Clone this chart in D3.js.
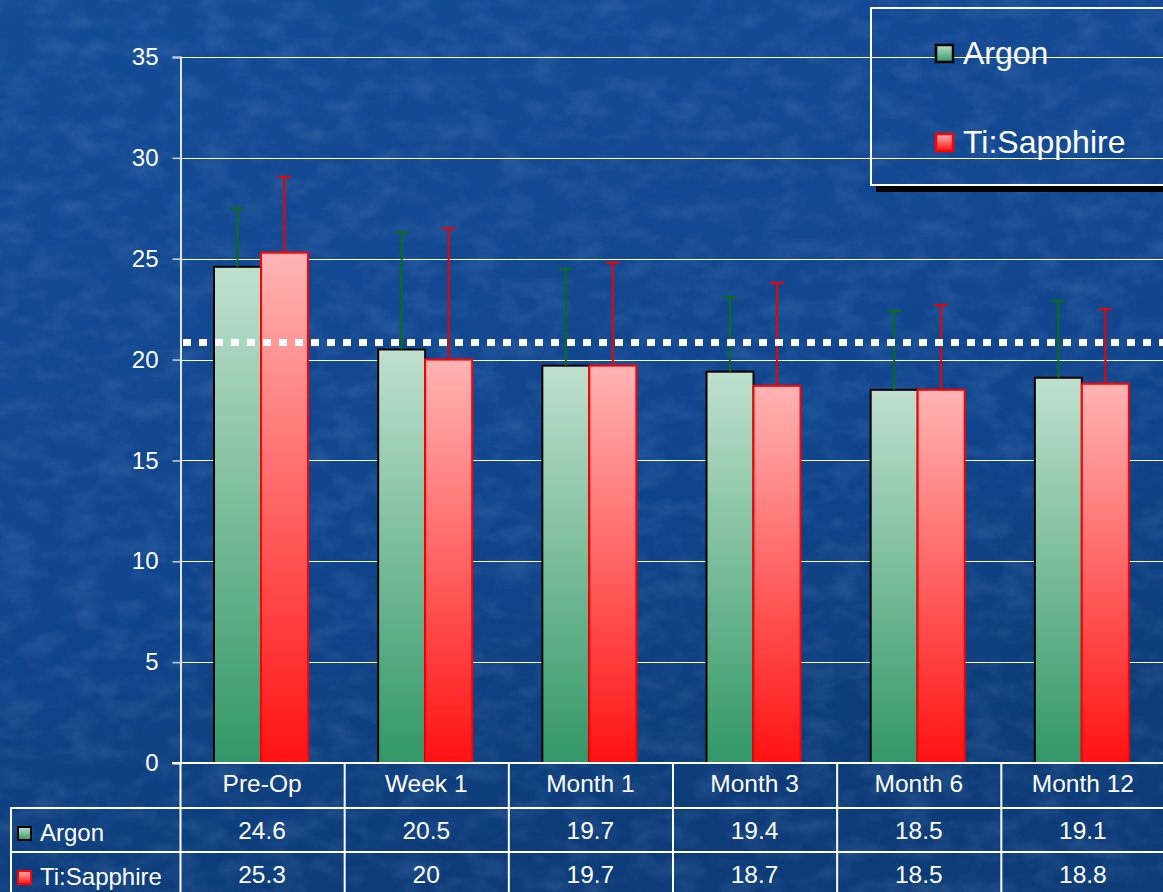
<!DOCTYPE html>
<html>
<head>
<meta charset="utf-8">
<script src="https://cdn.jsdelivr.net/npm/d3@7"></script>
<style>
  html, body { margin: 0; padding: 0; background: #0f4584; }
  svg { display: block; }
  text { font-family: "Liberation Sans", Arial, sans-serif; fill: #fff; }
</style>
</head>
<body>
<svg id="chart" width="1163" height="892"></svg>
<script>
// Mean values per visit and the upper standard deviation for each laser group
const categories = ["Pre-Op", "Week 1", "Month 1", "Month 3", "Month 6", "Month 12"];
const argonValues = [24.6, 20.5, 19.7, 19.4, 18.5, 19.1];
const tiValues = [25.3, 20, 19.7, 18.7, 18.5, 18.8];
const argonErr = [2.9, 5.8, 4.8, 3.7, 3.9, 3.8];
const tiErr = [3.75, 6.5, 5.1, 5.1, 4.2, 3.7];
const yTicks = [0, 5, 10, 15, 20, 25, 30, 35];
const referenceLevel = 20.85;
const seriesNames = ["Argon", "Ti:Sapphire"];

const svg = d3.select("#chart");
const W = 1163, H = 892;
const defs = svg.append("defs");

// Background: deep blue with a mottled texture
const bg = defs.append("linearGradient").attr("id", "bgGrad")
  .attr("x1", 0).attr("y1", 0).attr("x2", 0.3).attr("y2", 1);
bg.append("stop").attr("offset", "0%").attr("stop-color", "#144c95");
bg.append("stop").attr("offset", "60%").attr("stop-color", "#11468e");
bg.append("stop").attr("offset", "100%").attr("stop-color", "#0d3c78");

const tex = defs.append("filter").attr("id", "texture")
  .attr("x", 0).attr("y", 0).attr("width", "100%").attr("height", "100%");
tex.append("feTurbulence").attr("type", "fractalNoise")
  .attr("baseFrequency", "0.03 0.05").attr("numOctaves", 4).attr("seed", 11).attr("result", "noise");
tex.append("feColorMatrix").attr("in", "noise").attr("type", "matrix")
  .attr("values", "0 0 0 0 0.3  0 0 0 0 0.5  0 0 0 0 0.8  0 0 0 1.1 -0.45");

svg.append("rect").attr("width", W).attr("height", H).attr("fill", "url(#bgGrad)");
svg.append("rect").attr("width", W).attr("height", H).attr("filter", "url(#texture)").attr("opacity", 0.28);

// Bar gradients
function vGrad(id, top, bottom) {
  const g = defs.append("linearGradient").attr("id", id)
    .attr("x1", 0).attr("y1", 0).attr("x2", 0).attr("y2", 1);
  g.append("stop").attr("offset", "0%").attr("stop-color", top);
  g.append("stop").attr("offset", "100%").attr("stop-color", bottom);
}
vGrad("argonGrad", "#bfe0cd", "#329766");
vGrad("tiGrad", "#ffb4b4", "#ff1212");

// Scales
const x0 = 180, yZero = 763, yTop = 57;
const x = d3.scaleBand().domain(categories).range([x0, 1165]).paddingInner(0).paddingOuter(0);
const y = d3.scaleLinear().domain([0, 35]).range([yZero, yTop]);
const barW = 47, barOffset = 34;

// Grid lines
svg.append("g").selectAll("line").data(yTicks.filter(d => d > 0)).join("line")
  .attr("x1", x0).attr("x2", W)
  .attr("y1", d => Math.round(y(d)) + 0.5).attr("y2", d => Math.round(y(d)) + 0.5)
  .attr("stroke", "#ffffff").attr("stroke-width", 1.2);

// Y axis
const yAxis = d3.axisLeft(y).tickValues(yTicks).tickSize(8).tickPadding(14).tickFormat(d3.format("d"));
const yg = svg.append("g").attr("transform", `translate(${x0 + 0.5},0)`).call(yAxis);
yg.select(".domain").attr("stroke", "#dde6f2").attr("stroke-width", 2);
yg.selectAll(".tick line").attr("stroke", "#c8d4e6").attr("stroke-width", 1.5);
yg.selectAll(".tick text").attr("font-size", 24).attr("fill", "#fff")
  .style("font-family", "Liberation Sans, Arial, sans-serif");

// Bars
const groups = svg.append("g").selectAll("g").data(categories).join("g")
  .attr("transform", d => `translate(${x(d)},0)`);

groups.append("rect")
  .attr("x", barOffset).attr("width", barW)
  .attr("y", (d, i) => y(argonValues[i])).attr("height", (d, i) => yZero - y(argonValues[i]))
  .attr("fill", "url(#argonGrad)").attr("stroke", "#000").attr("stroke-width", 2);

groups.append("rect")
  .attr("x", barOffset + barW).attr("width", barW)
  .attr("y", (d, i) => y(tiValues[i])).attr("height", (d, i) => yZero - y(tiValues[i]))
  .attr("fill", "url(#tiGrad)").attr("stroke", "#ff0000").attr("stroke-width", 2);

// Error bars (upper)
function errorBars(vals, errs, cx, color) {
  groups.append("line")
    .attr("x1", cx).attr("x2", cx)
    .attr("y1", (d, i) => y(vals[i])).attr("y2", (d, i) => y(vals[i] + errs[i]))
    .attr("stroke", color).attr("stroke-width", 2);
  groups.append("line")
    .attr("x1", cx - 7).attr("x2", cx + 7)
    .attr("y1", (d, i) => y(vals[i] + errs[i])).attr("y2", (d, i) => y(vals[i] + errs[i]))
    .attr("stroke", color).attr("stroke-width", 2);
}
errorBars(argonValues, argonErr, barOffset + barW / 2, "#0a6e14");
errorBars(tiValues, tiErr, barOffset + barW * 1.5, "#ee0000");

// Reference level (dotted)
svg.append("line")
  .attr("x1", 183).attr("x2", W)
  .attr("y1", y(referenceLevel)).attr("y2", y(referenceLevel))
  .attr("stroke", "#ffffff").attr("stroke-width", 7).attr("stroke-dasharray", "8 8");

// Data table
const rowTops = [763, 808, 852, 897];
const tbl = svg.append("g");
tbl.append("line").attr("x1", 172).attr("x2", W).attr("y1", rowTops[0]).attr("y2", rowTops[0])
  .attr("stroke", "#fff").attr("stroke-width", 2);
[rowTops[1], rowTops[2]].forEach(yy => {
  tbl.append("line").attr("x1", 10).attr("x2", W).attr("y1", yy).attr("y2", yy)
    .attr("stroke", "#fff").attr("stroke-width", 2);
});
tbl.append("line").attr("x1", 11).attr("x2", 11).attr("y1", rowTops[1]).attr("y2", H)
  .attr("stroke", "#fff").attr("stroke-width", 2);
categories.forEach(c => {
  tbl.append("line").attr("x1", x(c) + 0.5).attr("x2", x(c) + 0.5).attr("y1", rowTops[0]).attr("y2", H)
    .attr("stroke", "#fff").attr("stroke-width", 2);
});

tbl.selectAll("text.cat").data(categories).join("text").attr("class", "cat")
  .attr("x", d => x(d) + x.bandwidth() / 2).attr("y", 792)
  .attr("text-anchor", "middle").attr("font-size", 24.5).text(d => d);

const fmt = v => String(v);
tbl.selectAll("text.va").data(argonValues).join("text").attr("class", "va")
  .attr("x", (d, i) => x(categories[i]) + x.bandwidth() / 2).attr("y", 839)
  .attr("text-anchor", "middle").attr("font-size", 24.5).text(fmt);
tbl.selectAll("text.vt").data(tiValues).join("text").attr("class", "vt")
  .attr("x", (d, i) => x(categories[i]) + x.bandwidth() / 2).attr("y", 883)
  .attr("text-anchor", "middle").attr("font-size", 24.5).text(fmt);

// Table row keys
const keyFills = ["url(#argonGrad)", "url(#tiGrad)"];
const keyStrokes = ["#000", "#ff0000"];
seriesNames.forEach((n, i) => {
  const cy = i === 0 ? 833 : 877;
  tbl.append("rect").attr("x", 18).attr("y", cy - 6).attr("width", 13).attr("height", 13)
    .attr("fill", keyFills[i]).attr("stroke", keyStrokes[i]).attr("stroke-width", 2);
  tbl.append("text").attr("x", 40).attr("y", cy + 8).attr("font-size", 24).text(n);
});

// Legend
const lg = svg.append("g");
lg.append("rect").attr("x", 876).attr("y", 186).attr("width", 300).attr("height", 6).attr("fill", "#000");
lg.append("rect").attr("x", 871).attr("y", 8).attr("width", 300).attr("height", 177)
  .attr("fill", "none").attr("stroke", "#fff").attr("stroke-width", 2);
seriesNames.forEach((n, i) => {
  const cy = i === 0 ? 53 : 142;
  lg.append("rect").attr("x", 936).attr("y", cy - 8).attr("width", 17).attr("height", 17)
    .attr("fill", keyFills[i]).attr("stroke", keyStrokes[i]).attr("stroke-width", 2.5);
  lg.append("text").attr("x", 963).attr("y", cy + 11).attr("font-size", 32).text(n);
});
</script>
</body>
</html>
